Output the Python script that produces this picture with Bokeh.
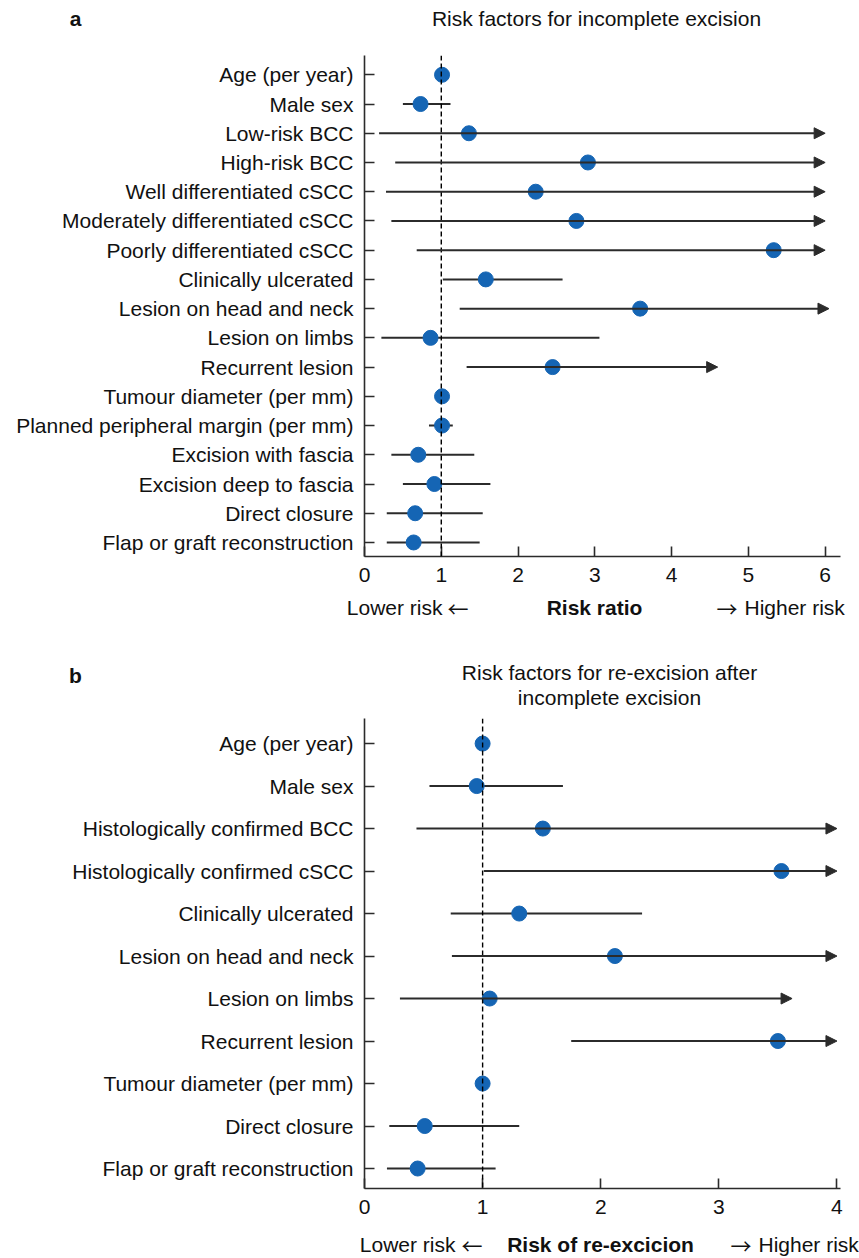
from bokeh.plotting import figure
from bokeh.models import (ColumnDataSource, Span, Arrow, NormalHead, FixedTicker, Range1d)
from bokeh.core.properties import value
from bokeh.embed import file_html
from bokeh.resources import INLINE

# ---------------- data ----------------
labels_a = ["Age (per year)", "Male sex", "Low-risk BCC", "High-risk BCC",
            "Well differentiated cSCC", "Moderately differentiated cSCC",
            "Poorly differentiated cSCC", "Clinically ulcerated",
            "Lesion on head and neck", "Lesion on limbs", "Recurrent lesion",
            "Tumour diameter (per mm)", "Planned peripheral margin (per mm)",
            "Excision with fascia", "Excision deep to fascia", "Direct closure",
            "Flap or graft reconstruction"]
rr_a = [1.01, 0.73, 1.36, 2.91, 2.23, 2.76, 5.33, 1.58, 3.59, 0.86, 2.45,
        1.01, 1.01, 0.70, 0.91, 0.66, 0.64]
lo_a = [1.01, 0.50, 0.19, 0.40, 0.28, 0.35, 0.68, 1.02, 1.24, 0.22, 1.33,
        1.01, 0.84, 0.35, 0.50, 0.29, 0.29]
hi_a = [1.01, 1.12, 6.00, 6.00, 6.00, 6.00, 6.00, 2.58, 6.05, 3.06, 4.60,
        1.01, 1.15, 1.43, 1.64, 1.54, 1.50]
arrow_a = [False, False, True, True, True, True, True, False, True, False, True,
           False, False, False, False, False, False]

labels_b = ["Age (per year)", "Male sex", "Histologically confirmed BCC",
            "Histologically confirmed cSCC", "Clinically ulcerated",
            "Lesion on head and neck", "Lesion on limbs", "Recurrent lesion",
            "Tumour diameter (per mm)", "Direct closure",
            "Flap or graft reconstruction"]
rr_b = [1.00, 0.95, 1.51, 3.53, 1.31, 2.12, 1.06, 3.50, 1.00, 0.51, 0.45]
lo_b = [1.00, 0.55, 0.44, 1.01, 0.73, 0.74, 0.30, 1.75, 1.00, 0.21, 0.19]
hi_b = [1.00, 1.68, 4.00, 4.00, 2.35, 4.00, 3.62, 4.00, 1.00, 1.31, 1.11]
arrow_b = [False, False, True, True, False, True, True, True, False, False, False]

xticks_a = [0, 1, 2, 3, 4, 5, 6]
xticks_b = [0, 1, 2, 3, 4]

title_a = ["Risk factors for incomplete excision"]
title_b = ["Risk factors for re-excision after", "incomplete excision"]
xlabel_a = ["Lower risk", "\u2190", "Risk ratio", "\u2192", "Higher risk"]
xlabel_b = ["Lower risk", "\u2190", "Risk of re-excicion", "\u2192", "Higher risk"]

FONT = "Liberation Sans"
ARROW_FONT = "Noto Sans CJK JP"
FS = "21px"
DOT = "#1565b4"
LINE = "#2b2b2b"
TXT = "#111111"
W = 859
FRAME_L, FRAME_W = 364, 476


def text_fig(height, xs, ys, texts, aligns, styles, fonts=None):
    """A strip of free text; its data space equals its own pixel space."""
    f = figure(width=W, height=height, x_range=Range1d(0, W), y_range=Range1d(height, 0),
               output_backend="svg", toolbar_location=None,
               min_border=0, min_border_left=0, min_border_right=0,
               min_border_top=0, min_border_bottom=0)
    f.axis.visible = False
    f.grid.visible = False
    f.outline_line_color = None
    fonts = fonts or [FONT] * len(texts)
    for x, y, t, a, s, fn in zip(xs, ys, texts, aligns, styles, fonts):
        f.text(x=[x], y=[y], text=[t], text_font=value(fn), text_font_size=FS,
               text_font_style=s, text_align=a, text_baseline="middle",
               text_color=TXT)
    return f


def forest(labels, rr, lo, hi, arrow, xticks, xmax, ytop_pad, ybot_pad,
           height, border_top, frame_h):
    n = len(labels)
    ys = [n - 1 - i for i in range(n)]
    p = figure(width=W, height=height, x_range=Range1d(0, xmax),
               y_range=Range1d(-ybot_pad, n - 1 + ytop_pad),
               output_backend="svg", toolbar_location=None,
               min_border_left=FRAME_L, min_border_right=W - FRAME_L - FRAME_W,
               min_border_top=border_top,
               min_border_bottom=height - border_top - frame_h)
    p.outline_line_color = None
    p.grid.visible = False

    p.add_layout(Span(location=1, dimension="height", line_color="black",
                      line_width=1.4, line_dash="5 3"))

    seg_idx = [i for i in range(n) if not arrow[i] and hi[i] > lo[i]]
    arr_idx = [i for i in range(n) if arrow[i]]
    seg = ColumnDataSource(dict(y=[ys[i] for i in seg_idx],
                                lo=[lo[i] for i in seg_idx],
                                hi=[hi[i] for i in seg_idx]))
    p.segment(x0="lo", x1="hi", y0="y", y1="y", source=seg,
              line_color=LINE, line_width=2)
    arr = ColumnDataSource(dict(y=[ys[i] for i in arr_idx],
                                lo=[lo[i] for i in arr_idx],
                                hi=[hi[i] for i in arr_idx]))
    p.add_layout(Arrow(end=NormalHead(size=11, fill_color=LINE, line_color=LINE),
                       x_start="lo", x_end="hi", y_start="y", y_end="y",
                       source=arr, line_color=LINE, line_width=2))
    pts = ColumnDataSource(dict(y=ys, rr=rr))
    p.scatter(x="rr", y="y", source=pts, size=15, fill_color=DOT, line_color=DOT)

    ya = p.yaxis[0]
    ya.ticker = FixedTicker(ticks=ys)
    ya.major_label_overrides = {ys[i]: labels[i] for i in range(n)}
    ya.major_label_standoff = 11
    xa = p.xaxis[0]
    xa.ticker = FixedTicker(ticks=xticks)
    xa.major_label_standoff = 11
    for ax in (ya, xa):
        ax.major_tick_in = 10
        ax.major_tick_out = 0
        ax.minor_tick_line_color = None
        ax.axis_line_width = 1.6
        ax.axis_line_color = LINE
        ax.major_tick_line_color = LINE
        ax.major_tick_line_width = 1.6
        ax.major_label_text_font = FONT
        ax.major_label_text_font_size = FS
        ax.major_label_text_color = TXT
    return p


XL_ALIGN = ["right", "left", "center", "left", "left"]
XL_STYLE = ["normal", "normal", "bold", "normal", "normal"]
XL_FONT = [FONT, ARROW_FONT, FONT, ARROW_FONT, FONT]

# panel a : page rows 0-40 header, 40-588 plot, 588-640 footer
head_a = text_fig(40, [75, 596], [18, 18], ["a"] + title_a,
                  ["center", "center"], ["bold", "normal"])
main_a = forest(labels_a, rr_a, lo_a, hi_a, arrow_a, xticks_a, xmax=6.2,
                ytop_pad=0.66, ybot_pad=0.48, height=548, border_top=15, frame_h=501)
foot_a = text_fig(52, [442, 447, 594, 716, 744], [19] * 5, xlabel_a,
                  XL_ALIGN, XL_STYLE, XL_FONT)

# panel b : page rows 640-710 header, 710-1216 plot, 1216-1258 footer
head_b = text_fig(70, [75, 609, 609], [35, 32, 57], ["b"] + title_b,
                  ["center", "center", "center"], ["bold", "normal", "normal"])
main_b = forest(labels_b, rr_b, lo_b, hi_b, arrow_b, xticks_b, xmax=4.03,
                ytop_pad=0.59, ybot_pad=0.47, height=506, border_top=8, frame_h=472)
foot_b = text_fig(42, [455, 461, 600, 730, 758], [28] * 5, xlabel_b,
                  XL_ALIGN, XL_STYLE, XL_FONT)

roots = [head_a, main_a, foot_a, head_b, main_b, foot_b]
open("out.html", "w").write(file_html(roots, INLINE))
